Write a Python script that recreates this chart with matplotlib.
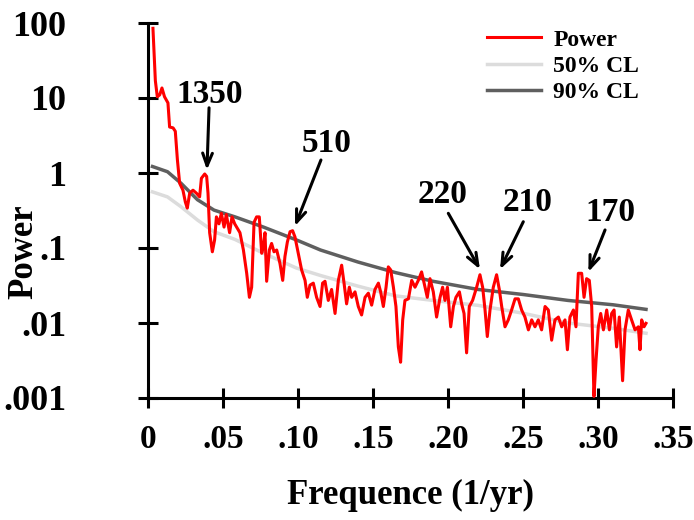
import numpy as np
import matplotlib.pyplot as plt
from matplotlib.ticker import FixedLocator, NullLocator

plt.rcParams['font.family'] = ['Liberation Serif', 'DejaVu Serif']
plt.rcParams['font.weight'] = 'bold'

# power spectrum
freq = [0.0033, 0.0049, 0.0062, 0.0078, 0.0093, 0.011, 0.0133, 0.0144, 0.0167, 0.0182,
        0.0196, 0.0211, 0.0233, 0.0249, 0.0262, 0.0278, 0.030, 0.0322, 0.0344, 0.0356,
        0.0378, 0.0391, 0.040, 0.0411, 0.0429, 0.0444, 0.0456, 0.0473, 0.0489, 0.0507,
        0.0522, 0.0544, 0.056, 0.0578, 0.0591, 0.0613, 0.0636, 0.0658, 0.0676, 0.0691,
        0.0707, 0.0724, 0.0742, 0.0758, 0.0769, 0.078, 0.0791, 0.0809, 0.0824, 0.084,
        0.0858, 0.088, 0.0898, 0.0913, 0.0929, 0.0947, 0.0964, 0.098, 0.1002, 0.1024,
        0.1047, 0.1062, 0.108, 0.1102, 0.1124, 0.1147, 0.1164, 0.118, 0.1202, 0.1224,
        0.1247, 0.1269, 0.1291, 0.1307, 0.1324, 0.1342, 0.1358, 0.138, 0.1402, 0.1424,
        0.1447, 0.1469, 0.1491, 0.1513, 0.1536, 0.1551, 0.1569, 0.1587, 0.1602, 0.1618,
        0.1636, 0.1653, 0.1669, 0.1684, 0.1698, 0.1713, 0.1736, 0.1758, 0.178, 0.1802,
        0.1824, 0.1847, 0.1862, 0.188, 0.1902, 0.1924, 0.1947, 0.1964, 0.198, 0.1996,
        0.2018, 0.2036, 0.2053, 0.2076, 0.2091, 0.2107, 0.2124, 0.2142, 0.2164, 0.2191,
        0.2213, 0.2231, 0.2247, 0.2262, 0.228, 0.2302, 0.2324, 0.2342, 0.2358, 0.238,
        0.2402, 0.2424, 0.2447, 0.2469, 0.2491, 0.2513, 0.2536, 0.2558, 0.258, 0.2602,
        0.2624, 0.2647, 0.2669, 0.2691, 0.2713, 0.2736, 0.2758, 0.278, 0.2796, 0.2813,
        0.2836, 0.2853, 0.2869, 0.2891, 0.2907, 0.2924, 0.2942, 0.2958, 0.2973, 0.2987,
        0.3002, 0.3018, 0.3036, 0.3058, 0.3076, 0.3091, 0.3107, 0.3124, 0.3142, 0.3164,
        0.318, 0.3202, 0.3224, 0.3247, 0.3269, 0.328, 0.3291, 0.3307, 0.332]
power = [85, 17, 10.4, 11, 13.6, 10.4, 8.6, 4.1, 4.0, 3.6,
         1.5, 0.73, 0.59, 0.41, 0.34, 0.54, 0.59, 0.54, 0.48, 0.85,
         0.97, 0.9, 0.54, 0.16, 0.089, 0.128, 0.26, 0.21, 0.29, 0.19,
         0.28, 0.16, 0.26, 0.21, 0.19, 0.16, 0.094, 0.046, 0.022, 0.030,
         0.22, 0.26, 0.26, 0.085, 0.104, 0.16, 0.036, 0.094, 0.115, 0.089,
         0.094, 0.062, 0.037, 0.077, 0.12, 0.165, 0.17, 0.14, 0.085, 0.051,
         0.037, 0.022, 0.032, 0.034, 0.022, 0.0166, 0.034, 0.036, 0.020, 0.028,
         0.0134, 0.037, 0.059, 0.034, 0.018, 0.030, 0.022, 0.026, 0.0166, 0.0128,
         0.022, 0.025, 0.0173, 0.028, 0.034, 0.026, 0.0166, 0.030, 0.056, 0.051,
         0.030, 0.0166, 0.0048, 0.0030, 0.011, 0.020, 0.021, 0.037, 0.030, 0.037,
         0.048, 0.030, 0.022, 0.039, 0.026, 0.012, 0.022, 0.030, 0.020, 0.030,
         0.0089, 0.0166, 0.022, 0.026, 0.018, 0.0134, 0.0040, 0.0166, 0.020, 0.030,
         0.044, 0.030, 0.0149, 0.0066, 0.0149, 0.030, 0.044, 0.028, 0.0166, 0.0089,
         0.011, 0.0149, 0.021, 0.021, 0.0149, 0.012, 0.0081, 0.011, 0.0089, 0.011,
         0.0081, 0.0166, 0.0149, 0.0059, 0.011, 0.012, 0.0089, 0.011, 0.0044, 0.012,
         0.0149, 0.0089, 0.046, 0.046, 0.022, 0.039, 0.037, 0.0166, 0.00105, 0.0032,
         0.0089, 0.0134, 0.0081, 0.0149, 0.0081, 0.0134, 0.0149, 0.0048, 0.012, 0.0017,
         0.0081, 0.0149, 0.011, 0.0081, 0.0089, 0.0044, 0.011, 0.0089, 0.0099]

# confidence levels
cl_freq = [0.003, 0.013, 0.022, 0.033, 0.044, 0.058, 0.077, 0.099, 0.115, 0.14,
           0.165, 0.19, 0.22, 0.25, 0.28, 0.31, 0.332]
cl50 = [0.56, 0.48, 0.355, 0.236, 0.165, 0.13, 0.085, 0.054, 0.043, 0.031,
        0.023, 0.020, 0.0172, 0.0135, 0.0100, 0.0085, 0.0073]
cl90 = [1.22, 1.04, 0.73, 0.44, 0.32, 0.26, 0.19, 0.128, 0.094, 0.065,
        0.047, 0.036, 0.028, 0.024, 0.020, 0.0175, 0.0152]

# peaks: label, text pos, arrow tail, arrow tip
peak_labels = ['1350', '510', '220', '210', '170']
text_xy = [(0.0413, 11), (0.1193, 2.5), (0.1967, 0.51), (0.2533, 0.41), (0.308, 0.30)]
tail_xy = [(0.0407, 7.4), (0.1153, 1.49), (0.2002, 0.29), (0.2502, 0.224), (0.3047, 0.174)]
tip_xy = [(0.0393, 1.1), (0.098, 0.196), (0.2213, 0.052), (0.2347, 0.052), (0.2936, 0.048)]

xticks = [0, 0.05, 0.10, 0.15, 0.20, 0.25, 0.30, 0.35]
xticklabels = ['0', '.05', '.10', '.15', '.20', '.25', '.30', '.35']
yticks = [0.001, 0.01, 0.1, 1, 10, 100]
yticklabels = ['.001', '.01', '.1', '1', '10', '100']

fig = plt.figure(figsize=(6.94, 5.2), dpi=100)
ax = fig.add_axes([148/694, 122/520, 525/694, 375/520])

ax.plot(cl_freq, cl50, color='#dcdcdc', lw=2.5, label='50% CL', zorder=2)
ax.plot(cl_freq, cl90, color='#5f5f5f', lw=2.5, label='90% CL', zorder=2)
ax.plot(freq, power, color='#ff0000', lw=2.2, label='Power', zorder=3)

ax.set_yscale('log')
ax.set_xlim(0, 0.35)
ax.set_ylim(0.001, 100)

ax.xaxis.set_major_locator(FixedLocator(xticks))
ax.set_xticklabels(xticklabels)
ax.yaxis.set_major_locator(FixedLocator(yticks))
ax.yaxis.set_minor_locator(NullLocator())
ax.set_yticklabels(yticklabels)

for s in ['top', 'right']:
    ax.spines[s].set_visible(False)
for s in ['left', 'bottom']:
    ax.spines[s].set_linewidth(2.2)

ax.tick_params(axis='both', direction='inout', length=14, width=2.2)
ax.tick_params(axis='x', pad=12, labelsize=24)
ax.tick_params(axis='y', pad=52, labelsize=26)

ax.set_xlabel('Frequence (1/yr)', fontsize=25, fontweight='bold', labelpad=17)
ax.set_ylabel('Power', fontsize=25, fontweight='bold')
ax.yaxis.set_label_coords(-0.205, 0.39)

for lab, t, a, b in zip(peak_labels, text_xy, tail_xy, tip_xy):
    ax.text(t[0], t[1], lab, fontsize=24, fontweight='bold', ha='center', va='center')
    ax.annotate('', xy=b, xytext=a,
                arrowprops=dict(arrowstyle='->,head_length=0.9,head_width=0.35',
                                color='black', lw=2.2, shrinkA=0, shrinkB=0))

h, l = ax.get_legend_handles_labels()
order = [2, 0, 1]
leg = ax.legend([h[i] for i in order], [l[i] for i in order],
                loc='upper left', bbox_to_anchor=(487/694, 491/520),
                bbox_transform=fig.transFigure, frameon=False, fontsize=17,
                handlelength=2.3, handletextpad=0.5, labelspacing=0.2,
                borderpad=0, borderaxespad=0)
for t in leg.get_texts():
    t.set_fontweight('bold')

fig.savefig('out.png', dpi=100)
